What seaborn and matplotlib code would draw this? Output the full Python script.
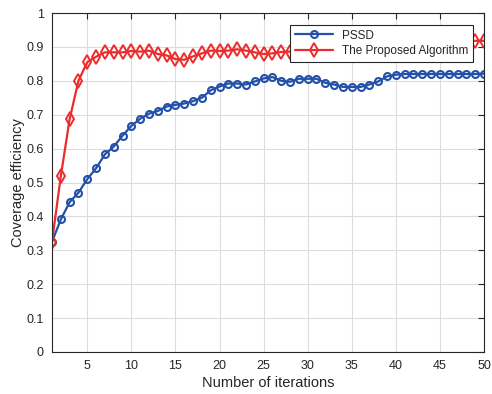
import numpy as np
import pandas as pd
import matplotlib
matplotlib.use("Agg")
import matplotlib.pyplot as plt
import seaborn as sns

# data
iterations = list(range(1, 51))
pssd = [0.325, 0.391, 0.442, 0.470, 0.510, 0.542, 0.583, 0.606, 0.638, 0.667,
        0.688, 0.703, 0.711, 0.724, 0.729, 0.733, 0.740, 0.750, 0.772, 0.783,
        0.792, 0.792, 0.789, 0.798, 0.807, 0.811, 0.800, 0.797, 0.806, 0.806,
        0.806, 0.794, 0.789, 0.782, 0.782, 0.782, 0.789, 0.798, 0.813, 0.818,
        0.820, 0.820, 0.820, 0.820, 0.820, 0.820, 0.820, 0.820, 0.820, 0.821]
proposed = [0.325, 0.519, 0.687, 0.800, 0.855, 0.871, 0.884, 0.884, 0.884, 0.888,
            0.886, 0.889, 0.879, 0.875, 0.864, 0.862, 0.872, 0.881, 0.889, 0.888,
            0.889, 0.893, 0.889, 0.884, 0.879, 0.881, 0.885, 0.886, 0.888, 0.890,
            0.891, 0.893, 0.895, 0.896, 0.897, 0.899, 0.900, 0.902, 0.903, 0.905,
            0.906, 0.908, 0.909, 0.911, 0.912, 0.914, 0.915, 0.917, 0.918, 0.918]
series_names = ["PSSD", "The Proposed Algorithm"]

df = pd.DataFrame({
    "iter": iterations * 2,
    "value": pssd + proposed,
    "method": [series_names[0]] * len(pssd) + [series_names[1]] * len(proposed),
})

sns.set_style("white")
plt.rcParams["font.family"] = ["Liberation Sans", "DejaVu Sans"]

fig = plt.figure(figsize=(4.92, 3.94), dpi=100)
ax = fig.add_axes([0.1057, 0.1066, 0.878, 0.8604])

blue = "#2350A8"
red = "#EC2C2C"

sns.lineplot(data=df[df["method"] == series_names[0]], x="iter", y="value",
             color=blue, marker="o", markersize=5, markerfacecolor="none",
             markeredgecolor=blue, markeredgewidth=1.5, linewidth=1.6,
             label=series_names[0], ax=ax)
sns.lineplot(data=df[df["method"] == series_names[1]], x="iter", y="value",
             color=red, marker="d", markersize=7, markerfacecolor="none",
             markeredgecolor=red, markeredgewidth=1.4, linewidth=1.6,
             label=series_names[1], ax=ax)

ax.set_xlim(1, 50)
ax.set_ylim(0, 1)
ax.set_xticks(range(5, 51, 5))
ax.set_yticks(np.arange(0, 1.01, 0.1))
ax.set_yticklabels(["0", "0.1", "0.2", "0.3", "0.4", "0.5", "0.6", "0.7", "0.8", "0.9", "1"])
ax.grid(True, color="#dcdcdc", linewidth=0.8)
ax.set_axisbelow(True)

for s in ax.spines.values():
    s.set_color("#262626")
    s.set_linewidth(0.8)
ax.tick_params(direction="in", top=True, right=True, length=4, width=0.8,
               colors="#262626", labelsize=9, pad=6)

ax.set_xlabel("Number of iterations", fontsize=10.5, color="#262626", labelpad=3)
ax.set_ylabel("Coverage efficiency", fontsize=10.5, color="#262626", labelpad=1)

leg = ax.legend(loc="upper left", bbox_to_anchor=(0.551, 0.965), fontsize=8.5,
                frameon=True, fancybox=False, framealpha=1, borderpad=0.4,
                handlelength=3.2, labelspacing=0.3, borderaxespad=0)
leg.get_frame().set_edgecolor("#262626")
leg.get_frame().set_linewidth(0.8)

fig.savefig("out.png", dpi=100)
